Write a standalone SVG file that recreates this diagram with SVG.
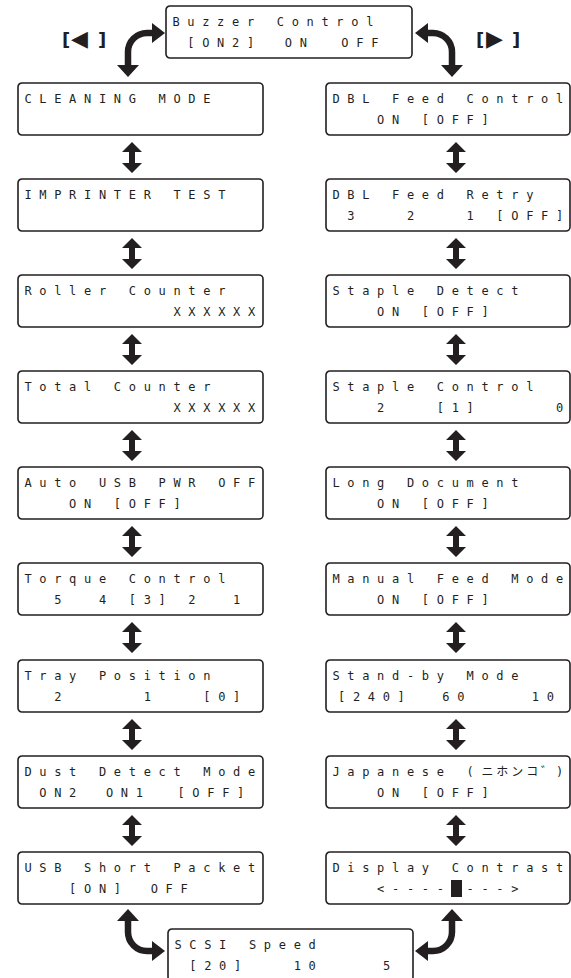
<svg xmlns="http://www.w3.org/2000/svg" width="571" height="978" viewBox="0 0 571 978" xml:space="preserve">
<style>
.box{fill:#fff;stroke:#231f20;stroke-width:1.6}
.t{font-family:"DejaVu Sans Mono","Noto Sans CJK JP",monospace;font-size:12px;letter-spacing:7.68px;fill:#231f20;white-space:pre}
.jp{font-family:"Noto Sans CJK JP",sans-serif;letter-spacing:2.9px}
.lbl{font-family:"DejaVu Sans","Liberation Sans",sans-serif;font-size:18px;font-weight:bold;fill:#231f20}
.tri{font-size:22px;font-weight:normal}
.cur{fill:none;stroke:#231f20;stroke-width:6.5}
.hd{fill:#231f20}
</style>
<defs>
<path id="dbl" d="M0,0 L10,10 L3,10 L3,21 L10,21 L0,31 L-10,21 L-3,21 L-3,10 L-10,10 Z" fill="#231f20"/>
</defs>
<rect width="571" height="978" fill="#fff"/>

<g id="connectors">
  <text class="lbl" y="46"><tspan x="62">[</tspan><tspan class="tri" x="71">◀</tspan><tspan x="98">]</tspan></text>
  <text class="lbl" y="46"><tspan x="476">[</tspan><tspan class="tri" x="486">▶</tspan><tspan x="512">]</tspan></text>
  <path class="cur" d="M128,66 L128,52 A19,19 0 0 1 147,33 L153,33"/>
  <polygon class="hd" points="152,23 165,33 152,43"/>
  <polygon class="hd" points="117,65 139,65 128,77"/>
  <path class="cur" d="M452,66 L452,52 A19,19 0 0 0 433,33 L427,33"/>
  <polygon class="hd" points="428,23 415,33 428,43"/>
  <polygon class="hd" points="441,65 463,65 452,77"/>
  <path class="cur" d="M128,920 L128,932 A19,19 0 0 0 147,951 L153,951"/>
  <polygon class="hd" points="152,941 165,951 152,961"/>
  <polygon class="hd" points="117,921 139,921 128,909"/>
  <path class="cur" d="M452,920 L452,932 A19,19 0 0 1 433,951 L427,951"/>
  <polygon class="hd" points="428,941 415,951 428,961"/>
  <polygon class="hd" points="441,921 463,921 452,909"/>
  <use href="#dbl" x="132" y="142"/>
  <use href="#dbl" x="132" y="238"/>
  <use href="#dbl" x="132" y="334"/>
  <use href="#dbl" x="132" y="430"/>
  <use href="#dbl" x="132" y="526"/>
  <use href="#dbl" x="132" y="622"/>
  <use href="#dbl" x="132" y="719"/>
  <use href="#dbl" x="132" y="815"/>
  <use href="#dbl" x="456" y="142"/>
  <use href="#dbl" x="456" y="238"/>
  <use href="#dbl" x="456" y="334"/>
  <use href="#dbl" x="456" y="430"/>
  <use href="#dbl" x="456" y="526"/>
  <use href="#dbl" x="456" y="622"/>
  <use href="#dbl" x="456" y="719"/>
  <use href="#dbl" x="456" y="815"/>
</g>

<g id="n-buzzer" transform="translate(166,6)"><rect class="box" width="246" height="52" rx="4"/><text class="t" x="6.4" y="20">Buzzer Control</text><text class="t" x="6.4" y="41"> [ON2] <tspan dx="8">ON</tspan>  <tspan dx="-3">OFF</tspan></text></g>

<g id="n-cleaning" transform="translate(18,83)"><rect class="box" width="245" height="52" rx="4"/><text class="t" x="6.4" y="20">CLEANING MODE</text></g>
<g id="n-imprinter" transform="translate(18,179)"><rect class="box" width="245" height="52" rx="4"/><text class="t" x="6.4" y="20">IMPRINTER TEST</text></g>
<g id="n-roller" transform="translate(18,275)"><rect class="box" width="245" height="52" rx="4"/><text class="t" x="6.4" y="20">Roller Counter</text><text class="t" x="6.4" y="41">          XXXXXX</text></g>
<g id="n-total" transform="translate(18,371)"><rect class="box" width="245" height="52" rx="4"/><text class="t" x="6.4" y="20">Total Counter</text><text class="t" x="6.4" y="41">          XXXXXX</text></g>
<g id="n-autousb" transform="translate(18,467)"><rect class="box" width="245" height="52" rx="4"/><text class="t" x="6.4" y="20">Auto USB PWR OFF</text><text class="t" x="6.4" y="41">   ON [OFF]</text></g>
<g id="n-torque" transform="translate(18,563)"><rect class="box" width="245" height="52" rx="4"/><text class="t" x="6.4" y="20">Torque Control</text><text class="t" x="6.4" y="41">  5  4 [3] 2  1</text></g>
<g id="n-tray" transform="translate(18,660)"><rect class="box" width="245" height="52" rx="4"/><text class="t" x="6.4" y="20">Tray Position</text><text class="t" x="6.4" y="41">  2     1   [0]</text></g>
<g id="n-dust" transform="translate(18,756)"><rect class="box" width="245" height="52" rx="4"/><text class="t" x="6.4" y="20">Dust Detect Mode</text><text class="t" x="6.4" y="41"> ON2 <tspan dx="7">ON1</tspan>  <tspan dx="-3">[OFF]</tspan></text></g>
<g id="n-usbshort" transform="translate(18,852)"><rect class="box" width="245" height="52" rx="4"/><text class="t" x="6.4" y="20">USB Short Packet</text><text class="t" x="6.4" y="41">   [ON] <tspan dx="7">OFF</tspan></text></g>

<g id="n-dblfeed" transform="translate(326,83)"><rect class="box" width="244" height="52" rx="4"/><text class="t" x="6.4" y="20">DBL Feed Control</text><text class="t" x="6.4" y="41">   ON [OFF]</text></g>
<g id="n-dblretry" transform="translate(326,179)"><rect class="box" width="244" height="52" rx="4"/><text class="t" x="6.4" y="20">DBL Feed Retry</text><text class="t" x="6.4" y="41"> 3   2   1 [OFF]</text></g>
<g id="n-stapledetect" transform="translate(326,275)"><rect class="box" width="244" height="52" rx="4"/><text class="t" x="6.4" y="20">Staple Detect</text><text class="t" x="6.4" y="41">   ON [OFF]</text></g>
<g id="n-staplecontrol" transform="translate(326,371)"><rect class="box" width="244" height="52" rx="4"/><text class="t" x="6.4" y="20">Staple Control</text><text class="t" x="6.4" y="41">   2   [1]     0</text></g>
<g id="n-longdoc" transform="translate(326,467)"><rect class="box" width="244" height="52" rx="4"/><text class="t" x="6.4" y="20">Long Document</text><text class="t" x="6.4" y="41">   ON [OFF]</text></g>
<g id="n-manualfeed" transform="translate(326,563)"><rect class="box" width="244" height="52" rx="4"/><text class="t" x="6.4" y="20">Manual Feed Mode</text><text class="t" x="6.4" y="41">   ON [OFF]</text></g>
<g id="n-standby" transform="translate(326,660)"><rect class="box" width="244" height="52" rx="4"/><text class="t" x="6.4" y="20">Stand-by Mode</text><text class="t" x="12" y="41">[240]  60    10</text></g>
<g id="n-japanese" transform="translate(326,756)"><rect class="box" width="244" height="52" rx="4"/><text class="t" x="6.4" y="20">Japanese (<tspan class="jp">ニホンコ゛</tspan>)</text><text class="t" x="6.4" y="41">   ON [OFF]</text></g>
<g id="n-contrast" transform="translate(326,852)"><rect class="box" width="244" height="52" rx="4"/><text class="t" x="6.4" y="20">Display Contrast</text><text class="t" x="6.4" y="41">   &lt;---- ---&gt;</text><rect x="125" y="28" width="11" height="17" fill="#231f20"/></g>

<g id="n-scsi" transform="translate(168,929)"><rect class="box" width="245" height="52" rx="4"/><text class="t" x="6.4" y="20">SCSI Speed</text><text class="t" x="6.4" y="41"> [20]   10    5</text></g>
</svg>
